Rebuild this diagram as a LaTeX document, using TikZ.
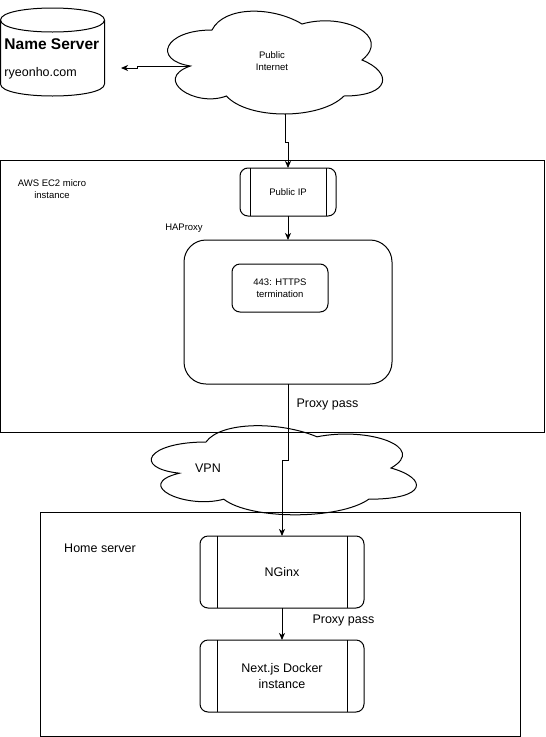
\documentclass[tikz,border=0pt]{standalone}
\usepackage{fontspec}
\setmainfont{Liberation Sans}
\usetikzlibrary{arrows.meta,calc}
\begin{document}
\begin{tikzpicture}[x=1pt,y=-1pt,line width=1pt,
  small/.style={font=\fontsize{9.5}{11.5}\selectfont,align=center,inner sep=0pt},
  norm/.style={font=\fontsize{12.5}{16}\selectfont,align=center,inner sep=0pt},
  arr/.style={-{Stealth[length=7pt,width=6pt,inset=2pt]}},
  procbox/.style={draw,rounded corners=8pt,inner sep=0pt,outer sep=0pt},
  roundbox/.style={draw,inner sep=0pt,outer sep=0pt}]
\useasboundingbox[fill=white] (0,0) rectangle (546,737);

% containers
\draw (0.5,160.5) rectangle (544.5,432.5);
\draw (40.5,512.5) rectangle (520.5,736.5);
\node[small] (awslbl) at (52,189) {AWS EC2 micro\\instance};
\node[norm] (homelbl) at (100,548) {Home server};

% name server cylinder
\draw (0.5,20) .. controls (0.5,4) and (104.5,4) .. (104.5,20)
      .. controls (104.5,36) and (0.5,36) .. (0.5,20) -- cycle;
\draw (0.5,20) -- (0.5,84) .. controls (0.5,100) and (104.5,100) .. (104.5,84) -- (104.5,20);
\node[inner sep=0pt,anchor=west,font=\fontsize{15.5}{18}\selectfont\bfseries] (ns) at (4,44) {Name Server};
\node[norm,anchor=west] (nsdom) at (4,73) {ryeonho.com};
\coordinate (nsin) at (121,68);

% public internet cloud
\begin{scope}[shift={(152,0)},x=240pt,y=-120pt]
\draw (0.25,0.25) .. controls (0.05,0.25) and (0,0.5) .. (0.16,0.55)
 .. controls (0,0.66) and (0.18,0.9) .. (0.31,0.8)
 .. controls (0.4,1) and (0.7,1) .. (0.8,0.8)
 .. controls (1,0.8) and (1,0.6) .. (0.875,0.5)
 .. controls (1,0.3) and (0.8,0.1) .. (0.625,0.2)
 .. controls (0.5,0.05) and (0.3,0.05) .. (0.25,0.25) -- cycle;
\end{scope}
\node[small] (inet) at (272,61) {Public\\Internet};
\coordinate (inetL) at (190.4,66);
\coordinate (inetB) at (285,114);

% VPN cloud
\begin{scope}[shift={(132,416)},x=296pt,y=-104pt]
\draw (0.25,0.25) .. controls (0.05,0.25) and (0,0.5) .. (0.16,0.55)
 .. controls (0,0.66) and (0.18,0.9) .. (0.31,0.8)
 .. controls (0.4,1) and (0.7,1) .. (0.8,0.8)
 .. controls (1,0.8) and (1,0.6) .. (0.875,0.5)
 .. controls (1,0.3) and (0.8,0.1) .. (0.625,0.2)
 .. controls (0.5,0.05) and (0.3,0.05) .. (0.25,0.25) -- cycle;
\end{scope}
\node[norm] (vpn) at (208,468) {VPN};

% Public IP
\node[procbox,minimum width=96pt,minimum height=48pt] (pip) at (288,192) {};
\draw ([xshift=10pt]pip.north west) -- ([xshift=10pt]pip.south west);
\draw ([xshift=-10pt]pip.north east) -- ([xshift=-10pt]pip.south east);
\node[small] at (pip) {Public IP};

% HAProxy
\node[small] (haplbl) at (184,228) {HAProxy};
\node[roundbox,rounded corners=22pt,minimum width=208pt,minimum height=144pt] (hap) at (288,312) {};
\node[roundbox,rounded corners=8pt,minimum width=96pt,minimum height=48pt] (tls) at (280,288) {};
\node[small] at (tls) {443: HTTPS\\termination};

% NGinx
\node[procbox,minimum width=164pt,minimum height=72pt] (ngx) at (282,572) {};
\draw ([xshift=17pt]ngx.north west) -- ([xshift=17pt]ngx.south west);
\draw ([xshift=-17pt]ngx.north east) -- ([xshift=-17pt]ngx.south east);
\node[norm] at (ngx) {NGinx};

% Next.js
\node[procbox,minimum width=164pt,minimum height=72pt] (nxt) at (282,676) {};
\draw ([xshift=17pt]nxt.north west) -- ([xshift=17pt]nxt.south west);
\draw ([xshift=-17pt]nxt.north east) -- ([xshift=-17pt]nxt.south east);
\node[norm] at (nxt) {Next.js Docker\\instance};

% connectors
\draw[arr] (inetL) -- (137,66) -- (137,68) -- (nsin);
\draw[arr] (inetB) -- (285,142) -- (288,142) -- (pip.north);
\draw[arr] (pip.south) -- (hap.north);
\draw[arr] (hap.south) -- (288,460) -- (282,460) -- (ngx.north);
\draw[arr] (ngx.south) -- (nxt.north);
\node[norm,anchor=west] (pp1) at (296,404) {Proxy pass};
\node[norm,anchor=west] (pp2) at (312,620) {Proxy pass};
\end{tikzpicture}
\end{document}
